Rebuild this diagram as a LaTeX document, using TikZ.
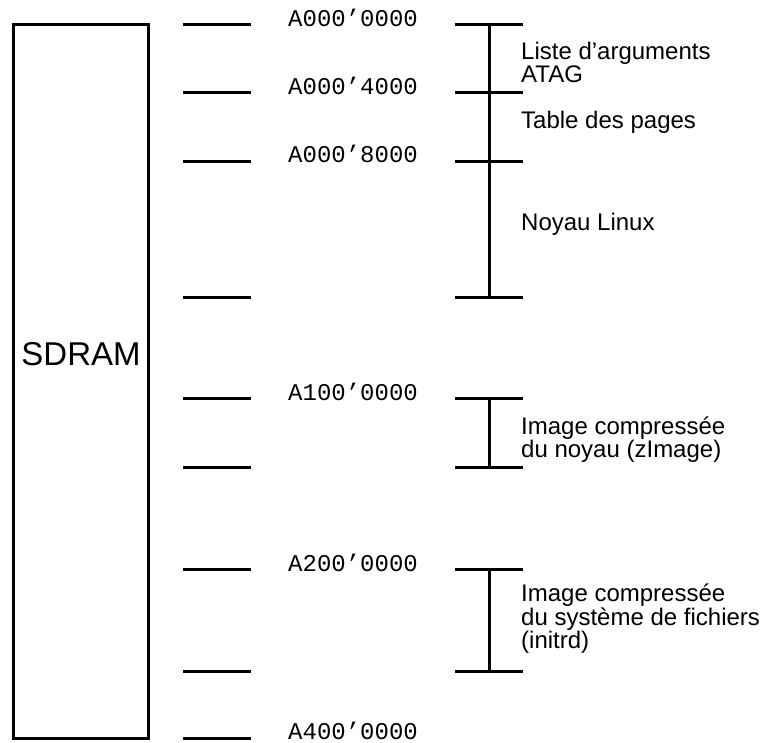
\documentclass[tikz,border=0pt]{standalone}
\usepackage{fontspec}
\setmainfont{Liberation Sans}
\newfontfamily\addrfont{Liberation Mono}
\begin{document}
\begin{tikzpicture}[x=1pt,y=-1pt,
  rule/.style={line width=3pt,line cap=butt},
  addr/.style={anchor=base west,inner sep=0pt,font={\addrfont\fontsize{24}{24}\selectfont}},
  zone/.style={anchor=base west,inner sep=0pt,align=left,font={\fontsize{24}{22.5}\selectfont}}]
\useasboundingbox (0,0) rectangle (762,742);

% memory block
\draw[line width=3pt] (13.5,24.5) rectangle (148.5,738.5);
\node[inner sep=0pt,anchor=base,font={\fontsize{33}{33}\selectfont}] (sdram) at (81,365) {SDRAM};

% boundary ticks next to the block
\foreach \y [count=\i] in {24.5,92.5,161,297,398,467,569,671,738.5}{
  \coordinate (a\i) at (183,\y);
  \coordinate (b\i) at (251,\y);
  \draw[rule] (a\i) -- (b\i);
}

% addresses
\node[addr] (ad1) at (288,26) {A000’0000};
\node[addr] (ad2) at (288,94) {A000’4000};
\node[addr] (ad3) at (288,162.5) {A000’8000};
\node[addr] (ad5) at (288,400) {A100’0000};
\node[addr] (ad7) at (288,571) {A200’0000};
\node[addr] (ad9) at (288,739) {A400’0000};

% brackets of the regions
\foreach \y [count=\i] in {24.5,92.5,161,297,398,467,569,671}{
  \coordinate (l\i) at (455,\y);
  \coordinate (r\i) at (523,\y);
  \coordinate (m\i) at (489,\y);
  \draw[rule] (l\i) -- (r\i);
}
\draw[rule] (m1) -- (m4);
\draw[rule] (m5) -- (m6);
\draw[rule] (m7) -- (m8);

% region names (anchored on the baseline of their last line)
\node[zone] (atag) at (521,82) {Liste d’arguments\\ATAG};
\node[zone] (pages) at (521,128) {Table des pages};
\node[zone] (kernel) at (521,230) {Noyau Linux};
\node[zone] (zimage) at (521,457) {Image compressée\\du noyau (zImage)};
\node[zone] (initrd) at (521,648) {Image compressée\\du système de fichiers\\(initrd)};
\end{tikzpicture}
\end{document}
